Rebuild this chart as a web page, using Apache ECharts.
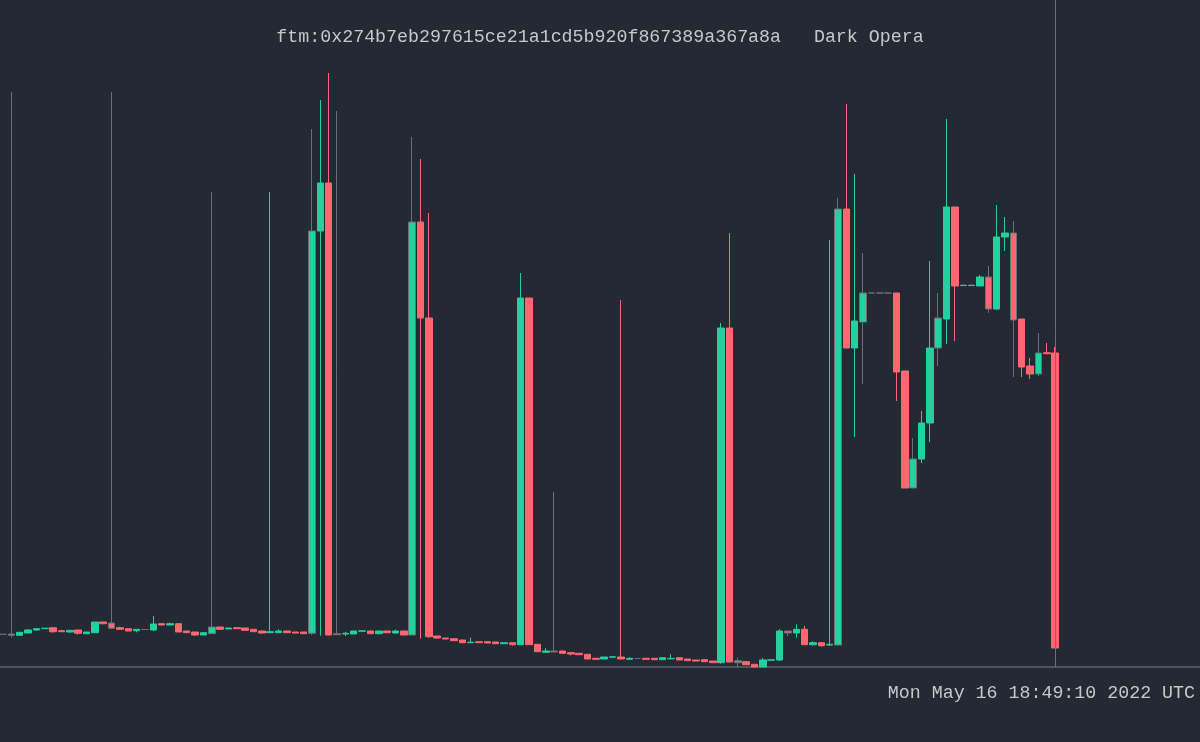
<!DOCTYPE html>
<html>
<head>
<meta charset="utf-8">
<title>Dark Opera</title>
<script src="https://cdn.jsdelivr.net/npm/echarts@6/dist/echarts.min.js"></script>
<style>
  html, body { margin: 0; padding: 0; background: #232a33; }
  #chart { width: 1200px; height: 742px; }
</style>
</head>
<body>
<div id="chart"></div>
<script>
const pairTitle = 'ftm:0x274b7eb297615ce21a1cd5b920f867389a367a8a   Dark Opera'
const stamp = 'Mon May 16 18:49:10 2022 UTC'

// candle values, one entry per bar (index = slot on the x axis)
const open = [
  0.327, 0.33, 0.317, 0.34, 0.37, 0.384, 0.393, 0.363, 0.35, 0.37,
  0.333, 0.343, 0.45, 0.44, 0.393, 0.383, 0.363, 0.375, 0.37, 0.433,
  0.42, 0.433, 0.36, 0.35, 0.32, 0.333, 0.40, 0.38, 0.393, 0.39,
  0.377, 0.36, 0.343, 0.343, 0.36, 0.35, 0.35, 0.337, 4.36, 4.84,
  0.333, 0.33, 0.33, 0.358, 0.36, 0.333, 0.36, 0.34, 0.36, 0.32,
  4.45, 3.49, 0.31, 0.29, 0.283, 0.27, 0.243, 0.253, 0.253, 0.25,
  0.233, 0.243, 0.223, 3.69, 0.227, 0.147, 0.16, 0.16, 0.143, 0.137,
  0.127, 0.087, 0.08, 0.098, 0.10, 0.077, 0.085, 0.087, 0.087, 0.073,
  0.082, 0.093, 0.08, 0.07, 0.073, 0.06, 0.043, 3.39, 0.063, 0.053,
  0.027, 0.0, 0.068, 0.07, 0.36, 0.34, 0.377, 0.223, 0.243, 0.22,
  0.22, 4.58, 3.19, 3.45, 3.74, 3.74, 3.74, 3.74, 2.96, 1.79,
  2.08, 2.44, 3.19, 3.48, 4.60, 3.815, 3.815, 3.81, 3.90, 3.58,
  4.30, 4.34, 3.48, 3.01, 2.93, 3.143, 3.14
]
const close = [
  0.327, 0.317, 0.347, 0.37, 0.383, 0.388, 0.353, 0.353, 0.367, 0.337,
  0.35, 0.45, 0.433, 0.387, 0.377, 0.36, 0.377, 0.375, 0.43, 0.42,
  0.433, 0.35, 0.343, 0.32, 0.343, 0.40, 0.377, 0.39, 0.383, 0.367,
  0.353, 0.34, 0.353, 0.36, 0.343, 0.34, 0.333, 4.36, 4.84, 0.32,
  0.323, 0.337, 0.36, 0.362, 0.333, 0.36, 0.343, 0.36, 0.32, 4.45,
  3.49, 0.303, 0.29, 0.28, 0.263, 0.243, 0.248, 0.243, 0.24, 0.233,
  0.243, 0.223, 3.69, 0.223, 0.153, 0.16, 0.15, 0.137, 0.13, 0.123,
  0.08, 0.077, 0.10, 0.102, 0.08, 0.087, 0.085, 0.077, 0.073, 0.093,
  0.086, 0.07, 0.063, 0.06, 0.053, 0.043, 3.39, 0.05, 0.043, 0.023,
  0.0, 0.07, 0.072, 0.36, 0.34, 0.377, 0.223, 0.243, 0.213, 0.227,
  4.58, 3.19, 3.46, 3.74, 3.74, 3.74, 3.74, 2.95, 1.79, 2.08,
  2.44, 3.19, 3.49, 4.60, 3.81, 3.818, 3.818, 3.90, 3.58, 4.30,
  4.34, 3.47, 3.00, 2.93, 3.14, 3.133, 0.19
]
const low = [
  0.327, 0.293, 0.31, 0.337, 0.36, 0.38, 0.343, 0.353, 0.343, 0.323,
  0.333, 0.343, 0.427, 0.38, 0.377, 0.36, 0.347, 0.375, 0.36, 0.42,
  0.42, 0.35, 0.343, 0.313, 0.32, 0.333, 0.377, 0.38, 0.383, 0.367,
  0.353, 0.333, 0.343, 0.343, 0.343, 0.34, 0.333, 0.32, 0.313, 0.32,
  0.323, 0.31, 0.33, 0.358, 0.333, 0.327, 0.343, 0.333, 0.32, 0.32,
  0.283, 0.293, 0.28, 0.28, 0.263, 0.237, 0.243, 0.243, 0.24, 0.233,
  0.233, 0.213, 0.223, 0.223, 0.153, 0.143, 0.15, 0.137, 0.117, 0.123,
  0.08, 0.077, 0.08, 0.098, 0.08, 0.073, 0.085, 0.077, 0.073, 0.073,
  0.077, 0.07, 0.063, 0.06, 0.053, 0.043, 0.033, 0.05, 0.0, 0.023,
  0.0, 0.0, 0.068, 0.06, 0.31, 0.293, 0.223, 0.213, 0.203, 0.21,
  0.22, 3.19, 2.30, 2.83, 3.74, 3.74, 3.74, 2.66, 1.79, 1.79,
  2.04, 2.25, 3.01, 3.23, 3.26, 3.815, 3.815, 3.81, 3.54, 3.57,
  4.16, 2.90, 2.90, 2.88, 2.91, 3.127, 0.19
]
const high = [
  0.327, 5.75, 0.347, 0.38, 0.39, 0.39, 0.393, 0.37, 0.367, 0.37,
  0.35, 0.45, 0.45, 5.75, 0.403, 0.383, 0.377, 0.375, 0.51, 0.433,
  0.443, 0.433, 0.36, 0.35, 0.343, 4.75, 0.40, 0.39, 0.393, 0.39,
  0.377, 0.36, 4.75, 0.377, 0.36, 0.35, 0.35, 5.38, 5.67, 5.94,
  5.56, 0.35, 0.36, 0.362, 0.36, 0.36, 0.36, 0.373, 0.36, 5.30,
  5.08, 4.54, 0.31, 0.29, 0.283, 0.27, 0.293, 0.253, 0.253, 0.25,
  0.243, 0.243, 3.94, 3.69, 0.227, 0.187, 1.75, 0.16, 0.143, 0.137,
  0.127, 0.087, 0.10, 0.102, 3.67, 0.097, 0.085, 0.087, 0.087, 0.093,
  0.127, 0.093, 0.08, 0.07, 0.08, 0.06, 3.44, 4.34, 0.093, 0.053,
  0.027, 0.09, 0.072, 0.377, 0.36, 0.427, 0.41, 0.257, 0.25, 4.27,
  4.69, 5.63, 4.93, 4.14, 3.74, 3.74, 3.74, 3.74, 2.96, 2.29,
  2.56, 4.06, 3.74, 5.48, 4.60, 3.818, 3.818, 3.92, 4.01, 4.62,
  4.50, 4.46, 3.48, 3.09, 3.34, 3.24, 3.20
]
// bars whose wick is drawn grey in the source
const greyWick = [1, 13, 25, 37, 40, 49, 66, 88, 94, 100, 103, 109, 112, 118, 121, 124]
const lastIdx = open.length - 1

const UP = '#22d19e'
const DOWN = '#ff6670'
const GREY = '#6b6f76'
const MONO = "'Courier New', 'Liberation Mono', monospace"

const candles = open.map((o, i) => {
  const item = { value: [i, o, close[i], low[i], high[i]] }
  if (greyWick.includes(i)) {
    item.itemStyle = { borderColor: GREY, borderColor0: GREY }
  }
  return item
})

const chart = echarts.init(document.getElementById('chart'))
const option = {
  backgroundColor: '#232a33',
  animation: false,
  title: [{
    text: pairTitle,
    left: 'center',
    top: 28,
    padding: 0,
    textStyle: {
      color: '#c5c7ca',
      fontSize: 18.3,
      fontWeight: 'normal',
      fontFamily: MONO,
    },
  }, {
    text: stamp,
    right: 5,
    top: 684,
    padding: 0,
    textStyle: {
      color: '#c5c7ca',
      fontSize: 18.3,
      fontWeight: 'normal',
      fontFamily: MONO,
    },
  }],
  grid: {
    left: 0,
    right: 0,
    top: 0,
    bottom: 75,
  },
  xAxis: {
    type: 'value',
    min: -0.36,
    max: 143.35,
    axisLine: {
      show: true,
      lineStyle: { color: '#61656c', width: 1.5 },
    },
    axisTick: { show: false },
    axisLabel: { show: false },
    splitLine: { show: false },
  },
  yAxis: {
    type: 'value',
    min: 0,
    max: 6.67,
    show: false,
    splitLine: { show: false },
  },
  series: [{
    type: 'candlestick',
    clip: false,
    barWidth: 7,
    encode: { x: 0, y: [1, 2, 3, 4] },
    itemStyle: {
      color: UP,
      color0: DOWN,
      borderColor: UP,
      borderColor0: DOWN,
      borderColorDoji: GREY,
      borderWidth: 1,
    },
    markLine: {
      silent: true,
      symbol: 'none',
      label: { show: false },
      lineStyle: { color: GREY, width: 1, type: 'solid' },
      data: [{ xAxis: lastIdx }],
    },
    data: candles,
  }],
}
chart.setOption(option)
</script>
</body>
</html>
